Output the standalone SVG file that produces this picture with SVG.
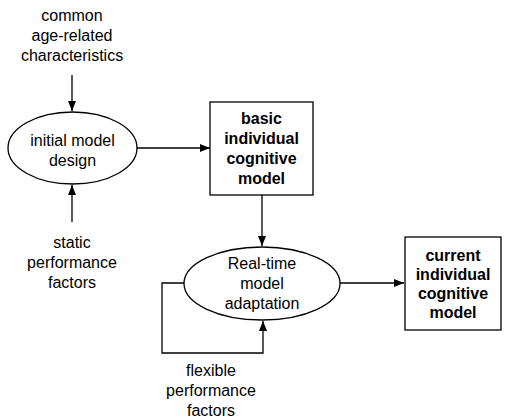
<svg xmlns="http://www.w3.org/2000/svg" width="505" height="420" viewBox="0 0 505 420">
<style>
text{font-family:"Liberation Sans",Arial,sans-serif;font-size:16px;fill:#000;text-anchor:middle}
.b{font-weight:bold}
.shape{fill:#fff;stroke:#000;stroke-width:1.3}
.line{fill:none;stroke:#000;stroke-width:1.3}
</style>
<defs>
<marker id="ah" viewBox="0 0 10 8" refX="10" refY="4" markerWidth="10" markerHeight="8" markerUnits="userSpaceOnUse" orient="auto">
<path d="M0,0 L10,4 L0,8 Z" fill="#000"/>
</marker>
</defs>
<g id="connectors">
<line class="line" x1="72" y1="75" x2="72" y2="111" marker-end="url(#ah)"/>
<line class="line" x1="72" y1="222" x2="72" y2="185" marker-end="url(#ah)"/>
<line class="line" x1="137" y1="148" x2="210" y2="148" marker-end="url(#ah)"/>
<line class="line" x1="262" y1="195" x2="262" y2="246" marker-end="url(#ah)"/>
<line class="line" x1="340" y1="283" x2="404" y2="283" marker-end="url(#ah)"/>
<path class="line" d="M184,283 H162 V353 H263 V321" marker-end="url(#ah)"/>
</g>
<g id="label-common">
<text x="72" y="21">common</text>
<text x="72" y="41">age-related</text>
<text x="72" y="61">characteristics</text>
</g>
<g id="node-initial">
<ellipse class="shape" cx="72.5" cy="148" rx="64.5" ry="36"/>
<text x="72.5" y="146">initial model</text>
<text x="72.5" y="165.5">design</text>
</g>
<g id="label-static">
<text x="72" y="248">static</text>
<text x="72" y="268">performance</text>
<text x="72" y="288">factors</text>
</g>
<g id="node-basic">
<rect class="shape" x="210" y="102" width="103" height="93"/>
<text class="b" x="261.5" y="124">basic</text>
<text class="b" x="261.5" y="144">individual</text>
<text class="b" x="261.5" y="164">cognitive</text>
<text class="b" x="261.5" y="183.5">model</text>
</g>
<g id="node-realtime">
<ellipse class="shape" cx="262" cy="283.5" rx="78" ry="36.5"/>
<text x="262" y="269">Real-time</text>
<text x="262" y="289">model</text>
<text x="262" y="308.5">adaptation</text>
</g>
<g id="label-flexible">
<text x="211" y="376">flexible</text>
<text x="211" y="396">performance</text>
<text x="211" y="416">factors</text>
</g>
<g id="node-current">
<rect class="shape" x="405" y="237" width="96" height="93"/>
<text class="b" x="453" y="261">current</text>
<text class="b" x="453" y="280">individual</text>
<text class="b" x="453" y="299">cognitive</text>
<text class="b" x="453" y="318">model</text>
</g>
</svg>
